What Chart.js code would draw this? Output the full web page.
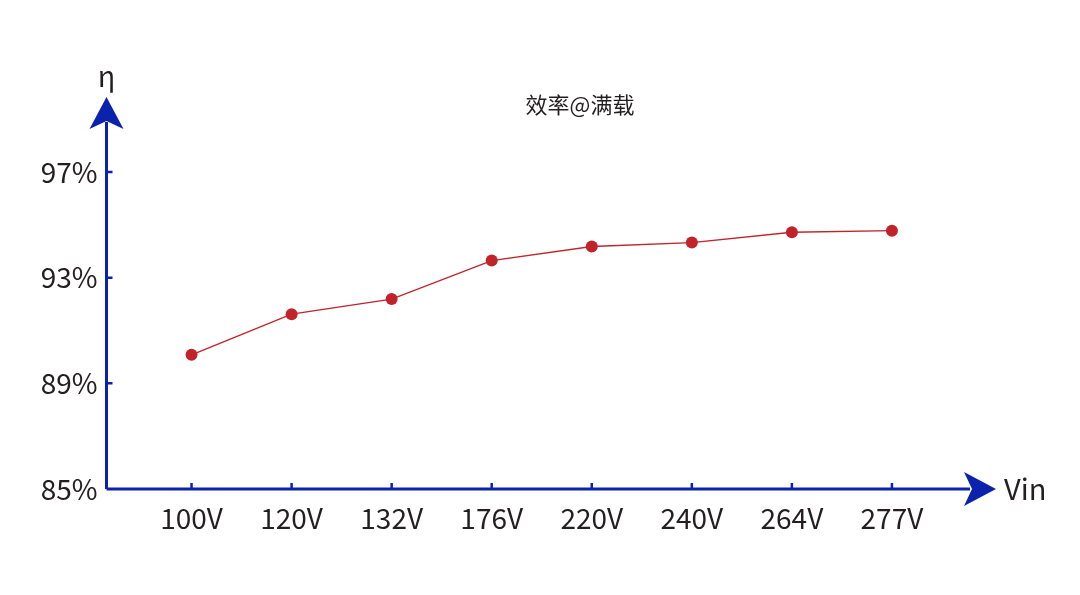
<!DOCTYPE html>
<html>
<head>
<meta charset="utf-8">
<script src="https://cdn.jsdelivr.net/npm/chart.js@4/dist/chart.umd.min.js"></script>
<style>
  html, body { margin: 0; padding: 0; background: #fff; }
  #wrap { width: 1080px; height: 595px; }
</style>
</head>
<body>
<div id="wrap"><canvas id="effChart" width="1080" height="595"></canvas></div>
<script>
const categories = ["100V", "120V", "132V", "176V", "220V", "240V", "264V", "277V"];
const efficiency = [90.08, 91.62, 92.19, 93.65, 94.18, 94.33, 94.72, 94.78];
const yTicks = [85, 89, 93, 97];
const title = "效率@满载";
const xName = "Vin";
const yName = "η";

const axisColor = "#0b22ad";
const textColor = "#231f20";
const lineColor = "#c1232b";
const fontFamily = "'Noto Sans CJK SC', 'Noto Sans', sans-serif";

// arrows, tick marks, axis names and title
const axesPlugin = {
  id: "axesPlugin",
  afterDraw(chart) {
    const ctx = chart.ctx;
    const x = chart.scales.x;
    const y = chart.scales.y;
    const ox = x.getPixelForValue(x.min);
    const oy = y.getPixelForValue(y.min);
    ctx.save();
    ctx.strokeStyle = axisColor;
    ctx.fillStyle = axisColor;
    ctx.lineWidth = 3;
    // axis lines
    ctx.beginPath();
    ctx.moveTo(ox, oy);
    ctx.lineTo(970, oy);
    ctx.moveTo(ox, oy);
    ctx.lineTo(ox, 122);
    ctx.stroke();
    // x arrow
    ctx.beginPath();
    ctx.moveTo(996, oy);
    ctx.lineTo(964, oy - 17);
    ctx.lineTo(972, oy);
    ctx.lineTo(964, oy + 17);
    ctx.closePath();
    ctx.fill();
    // y arrow
    ctx.beginPath();
    ctx.moveTo(ox, 97);
    ctx.lineTo(ox - 17, 129);
    ctx.lineTo(ox, 121);
    ctx.lineTo(ox + 17, 129);
    ctx.closePath();
    ctx.fill();
    // tick marks
    ctx.lineWidth = 2.5;
    ctx.beginPath();
    categories.forEach((c, i) => {
      const px = x.getPixelForValue(i);
      ctx.moveTo(px, oy);
      ctx.lineTo(px, oy - 6);
    });
    yTicks.slice(1).forEach(v => {
      const py = y.getPixelForValue(v);
      ctx.moveTo(ox, py);
      ctx.lineTo(ox + 6, py);
    });
    ctx.stroke();
    // names
    ctx.fillStyle = textColor;
    ctx.textBaseline = "middle";
    ctx.font = "29px " + fontFamily;
    ctx.textAlign = "left";
    ctx.fillText(xName, 1004, oy);
    ctx.textAlign = "center";
    ctx.fillText(yName, ox, 76);
    ctx.font = "22px " + fontFamily;
    ctx.fillText(title, 580, 105);
    ctx.restore();
  }
};

new Chart(document.getElementById("effChart").getContext("2d"), {
  type: "line",
  data: {
    datasets: [{
      label: title,
      data: efficiency.map((v, i) => ({ x: i, y: v })),
      borderColor: lineColor,
      backgroundColor: lineColor,
      borderWidth: 1.3,
      pointRadius: 6,
      pointBorderWidth: 0,
      tension: 0
    }]
  },
  options: {
    responsive: false,
    animation: false,
    layout: { padding: { top: 106, right: 88, left: 0, bottom: 0 } },
    plugins: { legend: { display: false }, tooltip: { enabled: false } },
    scales: {
      x: {
        type: "linear",
        min: -0.85,
        max: 8.0,
        afterFit: s => { s.height = 106; },
        afterBuildTicks: s => { s.ticks = categories.map((c, i) => ({ value: i })); },
        grid: { display: false, drawTicks: false },
        border: { display: false },
        ticks: {
          color: textColor,
          font: { family: fontFamily, size: 28 },
          padding: 13,
          maxRotation: 0,
          autoSkip: false,
          callback: v => categories[v]
        }
      },
      y: {
        min: 85,
        max: 99.5,
        afterFit: s => { s.width = 106.5; },
        afterBuildTicks: s => { s.ticks = yTicks.map(v => ({ value: v })); },
        grid: { display: false, drawTicks: false },
        border: { display: false },
        ticks: {
          color: textColor,
          font: { family: fontFamily, size: 28 },
          padding: 9,
          callback: v => v + "%"
        }
      }
    }
  },
  plugins: [axesPlugin]
});
</script>
</body>
</html>
